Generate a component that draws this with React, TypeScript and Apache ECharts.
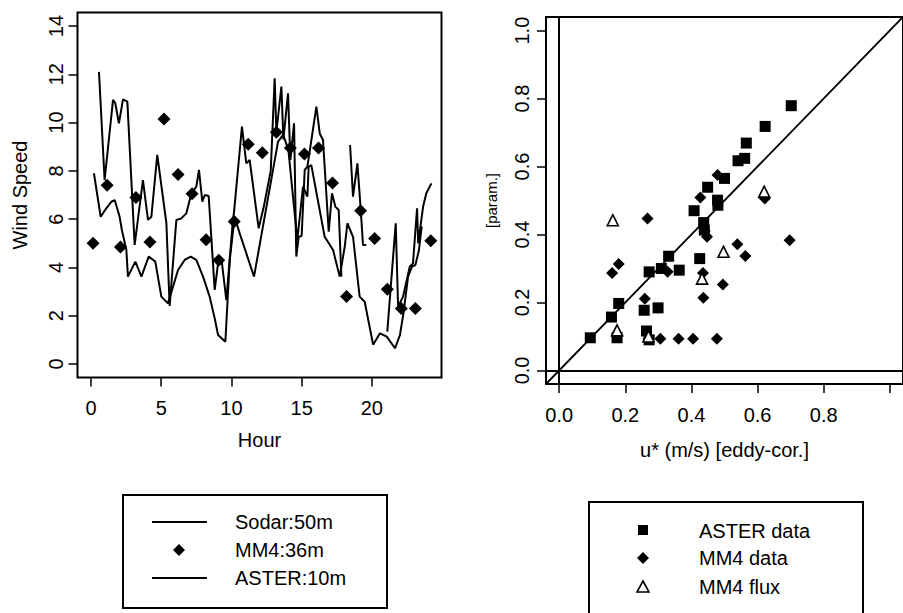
import React, { useEffect, useRef } from "react";
import * as echarts from "echarts";

const FONT = '"Liberation Sans", Arial, Helvetica, sans-serif';

// ---------- Left panel: wind speed vs hour ----------
const hourTicks = [0, 5, 10, 15, 20];
const speedTicks = [0, 2, 4, 6, 8, 10, 12, 14];

const sodarSeg1: number[][] = [
  [0.57, 12.1], [0.97, 7.62], [1.57, 10.94], [1.73, 10.8], [1.99, 9.97], [2.28, 10.96], [2.59, 10.87],
  [3.11, 4.93], [3.7, 7.62], [4.06, 5.97], [4.3, 6.1], [4.72, 8.66], [5.37, 5.83], [5.6, 2.4],
  [6.08, 5.97], [6.43, 6.03], [6.79, 6.24], [7.15, 7.07], [7.5, 7.35], [7.69, 8.04], [7.93, 6.72],
  [8.1, 7.0], [8.38, 6.96], [8.81, 3.07], [9.05, 4.17], [9.3, 4.3], [9.64, 2.65], [10.11, 5.97],
  [10.19, 6.31], [10.75, 9.83], [11.06, 8.31], [11.3, 8.45], [11.94, 5.62], [12.3, 6.5], [12.8, 8.0],
  [13.08, 11.83], [13.2, 9.6], [13.56, 11.49], [13.7, 9.3], [14.03, 11.21], [14.2, 8.45], [14.46, 9.97],
  [14.62, 4.45], [14.79, 5.27], [15.0, 5.3], [15.22, 8.04], [15.41, 8.17], [16.05, 10.66], [16.29, 9.55],
  [16.52, 9.28], [16.93, 5.48], [17.16, 7.07], [17.4, 6.52], [17.64, 6.38], [17.83, 3.62],
];
const sodarSeg2: number[][] = [
  [18.45, 9.07], [18.66, 6.93], [18.97, 8.31], [19.21, 6.38], [19.37, 4.93], [19.6, 4.93],
];
const sodarSeg3: number[][] = [
  [21.1, 1.34], [21.7, 5.83], [21.87, 2.37], [22.22, 2.79], [22.7, 4.03], [22.93, 4.17], [23.22, 6.45],
  [23.3, 5.0], [23.65, 6.52], [23.88, 7.07], [24.24, 7.48],
];
const asterLine: number[][] = [
  [0.21, 7.9], [0.69, 6.1], [1.09, 6.45], [1.45, 6.72], [1.69, 6.79], [2.04, 6.1], [2.2, 5.55],
  [2.52, 4.72], [2.63, 3.62], [3.16, 4.24], [3.59, 3.62], [4.11, 4.45], [4.58, 4.24], [5.01, 2.79],
  [5.48, 2.51], [6.2, 3.89], [6.67, 4.31], [7.1, 4.45], [7.5, 4.31], [7.98, 3.62], [8.45, 2.79],
  [8.81, 1.89], [9.05, 1.2], [9.57, 0.92], [9.88, 4.31], [10.23, 6.1], [10.59, 5.41], [11.61, 3.62],
  [13.32, 9.21], [13.68, 9.49], [14.05, 8.9], [14.69, 5.14], [15.1, 7.35], [15.41, 6.93], [15.5, 8.17],
  [15.69, 8.24], [16.64, 5.27], [17.24, 4.72], [17.71, 3.62], [18.07, 4.86], [18.26, 5.83], [18.66, 5.27],
  [19.13, 2.79], [19.49, 2.58], [20.09, 0.8], [20.58, 1.27], [21.06, 1.13], [21.65, 0.65], [22.0, 1.2],
  [22.25, 2.1], [22.58, 3.62], [22.86, 4.03], [23.1, 4.1], [23.35, 4.7], [23.55, 5.7],
];
const mm4Hours = [0.15, 1.15, 2.1, 3.2, 4.2, 5.2, 6.2, 7.2, 8.2, 9.1, 10.2, 11.2, 12.2, 13.2, 14.2, 15.2, 16.2, 17.2, 18.2, 19.2, 20.2, 21.1, 22.1, 23.1, 24.2];
const mm4Speed = [5.0, 7.4, 4.85, 6.9, 5.05, 10.15, 7.85, 7.05, 5.15, 4.3, 5.9, 9.1, 8.75, 9.6, 8.95, 8.7, 8.95, 7.5, 2.8, 6.35, 5.2, 3.1, 2.3, 2.3, 5.1];

// ---------- Right panel: u* param vs eddy-cor ----------
const uTicks = [0, 0.2, 0.4, 0.6, 0.8, 1.0];
const uLabelTicks = [0, 0.2, 0.4, 0.6, 0.8];
const vTicks = [0, 0.2, 0.4, 0.6, 0.8, 1.0];

const asterData: number[][] = [
  [0.702, 0.779], [0.623, 0.718], [0.566, 0.669], [0.561, 0.624], [0.541, 0.617], [0.5, 0.565],
  [0.449, 0.539], [0.479, 0.501], [0.48, 0.486], [0.408, 0.47], [0.437, 0.435], [0.439, 0.413],
  [0.331, 0.336], [0.309, 0.3], [0.272, 0.29], [0.363, 0.295], [0.425, 0.329], [0.18, 0.197],
  [0.158, 0.157], [0.094, 0.096], [0.175, 0.096], [0.257, 0.177], [0.299, 0.184], [0.264, 0.116],
  [0.272, 0.09],
];
const mm4Data: number[][] = [
  [0.267, 0.447], [0.479, 0.575], [0.427, 0.509], [0.622, 0.506], [0.697, 0.383], [0.447, 0.393],
  [0.44, 0.41], [0.539, 0.371], [0.563, 0.337], [0.495, 0.253], [0.436, 0.214], [0.435, 0.287],
  [0.18, 0.313], [0.16, 0.287], [0.328, 0.29], [0.259, 0.211], [0.306, 0.093], [0.361, 0.093],
  [0.405, 0.093], [0.477, 0.093], [0.175, 0.1], [0.27, 0.093],
];
const mm4Flux: number[][] = [
  [0.162, 0.442], [0.497, 0.349], [0.62, 0.526], [0.432, 0.27], [0.175, 0.118], [0.27, 0.1],
];
const oneToOne: number[][] = [[-0.04, -0.04], [1.04, 1.04]];

const txt = { fontFamily: FONT, fontSize: 20, color: "#000" };

function axisBase(extra: any) {
  return {
    type: "value",
    axisLine: { show: false, onZero: false },
    splitLine: { show: false },
    ...extra,
  };
}

export default function App() {
  const ref = useRef<HTMLDivElement>(null);
  useEffect(() => {
    if (!ref.current) return;
    const chart = echarts.init(ref.current, null, { renderer: "svg" });
    const lineStyle = { color: "#000", width: 2 };
    const tickStyle = { show: true, length: 9, lineStyle: { color: "#000", width: 1.5 } };
    const solid = { color: "#000", opacity: 1 };

    const option: any = {
      animation: false,
      backgroundColor: "#fff",
      grid: [
        { left: 77.5, top: 12.5, width: 364, height: 365, show: true, borderColor: "#000", borderWidth: 2, backgroundColor: "transparent" },
        { left: 546, top: 17, width: 364, height: 367, show: true, borderColor: "#000", borderWidth: 2, backgroundColor: "transparent" },
      ],
      xAxis: [
        axisBase({
          gridIndex: 0, min: -0.96, max: 24.96,
          name: "Hour", nameLocation: "middle", nameGap: 52, nameTextStyle: txt,
          axisTick: { ...tickStyle, customValues: hourTicks },
          axisLabel: { ...txt, margin: 20, customValues: hourTicks },
        }),
        axisBase({
          gridIndex: 1, min: -0.04, max: 1.04,
          name: "u* (m/s) [eddy-cor.]", nameLocation: "middle", nameGap: 56, nameTextStyle: txt,
          axisTick: { ...tickStyle, customValues: uTicks },
          axisLabel: { ...txt, margin: 21, customValues: uLabelTicks, formatter: (v: number) => v.toFixed(1) },
        }),
      ],
      yAxis: [
        axisBase({
          gridIndex: 0, min: -0.56, max: 14.56,
          name: "Wind Speed", nameLocation: "middle", nameGap: 48, nameRotate: 90, nameTextStyle: txt,
          axisTick: { ...tickStyle, customValues: speedTicks },
          axisLabel: { ...txt, margin: 12, rotate: 90, customValues: speedTicks },
        }),
        axisBase({
          gridIndex: 1, min: -0.04, max: 1.04,
          name: "[param.]", nameLocation: "middle", nameGap: 47, nameRotate: 90,
          nameTextStyle: { ...txt, fontSize: 15 },
          axisTick: { ...tickStyle, customValues: vTicks },
          axisLabel: { ...txt, margin: 14, rotate: 90, customValues: vTicks, formatter: (v: number) => v.toFixed(1) },
        }),
      ],
      series: [
        { name: "Sodar:50m", type: "line", xAxisIndex: 0, yAxisIndex: 0, data: sodarSeg1, showSymbol: false, lineStyle, silent: true },
        { name: "Sodar:50m", type: "line", xAxisIndex: 0, yAxisIndex: 0, data: sodarSeg2, showSymbol: false, lineStyle, silent: true },
        { name: "Sodar:50m", type: "line", xAxisIndex: 0, yAxisIndex: 0, data: sodarSeg3, showSymbol: false, lineStyle, silent: true },
        { name: "ASTER:10m", type: "line", xAxisIndex: 0, yAxisIndex: 0, data: asterLine, showSymbol: false, lineStyle, silent: true },
        {
          name: "MM4:36m", type: "scatter", xAxisIndex: 0, yAxisIndex: 0,
          data: mm4Hours.map((h, i) => [h, mm4Speed[i]]),
          symbol: "diamond", symbolSize: 13, itemStyle: solid, silent: true,
        },
        {
          name: "1:1", type: "line", xAxisIndex: 1, yAxisIndex: 1, data: oneToOne, showSymbol: false,
          lineStyle: { color: "#000", width: 1.8 }, silent: true, clip: true,
          markLine: {
            silent: true, symbol: ["none", "none"], label: { show: false },
            lineStyle: { color: "#000", width: 2, type: "solid" },
            data: [{ xAxis: 0 }, { yAxis: 0 }],
          },
        },
        { name: "ASTER data", type: "scatter", xAxisIndex: 1, yAxisIndex: 1, data: asterData, symbol: "rect", symbolSize: 11, itemStyle: solid, silent: true },
        { name: "MM4 data", type: "scatter", xAxisIndex: 1, yAxisIndex: 1, data: mm4Data, symbol: "diamond", symbolSize: 12, itemStyle: solid, silent: true },
        {
          name: "MM4 flux", type: "scatter", xAxisIndex: 1, yAxisIndex: 1, data: mm4Flux, symbol: "triangle", symbolSize: 11,
          itemStyle: { color: "#fff", borderColor: "#000", borderWidth: 1.6, opacity: 1 }, silent: true,
        },
      ],
      graphic: [
        // left legend
        { type: "rect", shape: { x: 123, y: 495, width: 264, height: 113 }, style: { fill: "none", stroke: "#000", lineWidth: 2 }, silent: true },
        { type: "line", shape: { x1: 152, y1: 522, x2: 207, y2: 522 }, style: { stroke: "#000", lineWidth: 2 }, silent: true },
        { type: "polygon", shape: { points: [[179, 544], [185, 550], [179, 556], [173, 550]] }, style: { fill: "#000" }, silent: true },
        { type: "line", shape: { x1: 152, y1: 578, x2: 207, y2: 578 }, style: { stroke: "#000", lineWidth: 2 }, silent: true },
        { type: "text", x: 235, y: 522, style: { text: "Sodar:50m", font: `20px ${FONT}`, fill: "#000", verticalAlign: "middle" }, silent: true },
        { type: "text", x: 235, y: 550, style: { text: "MM4:36m", font: `20px ${FONT}`, fill: "#000", verticalAlign: "middle" }, silent: true },
        { type: "text", x: 235, y: 578, style: { text: "ASTER:10m", font: `20px ${FONT}`, fill: "#000", verticalAlign: "middle" }, silent: true },
        // right legend
        { type: "rect", shape: { x: 589, y: 502, width: 274, height: 140 }, style: { fill: "none", stroke: "#000", lineWidth: 2 }, silent: true },
        { type: "rect", shape: { x: 638, y: 525, width: 10, height: 10 }, style: { fill: "#000" }, silent: true },
        { type: "polygon", shape: { points: [[643, 552], [649, 558], [643, 564], [637, 558]] }, style: { fill: "#000" }, silent: true },
        { type: "polygon", shape: { points: [[643, 581], [649, 592], [637, 592]] }, style: { fill: "#fff", stroke: "#000", lineWidth: 1.6 }, silent: true },
        { type: "text", x: 699, y: 531, style: { text: "ASTER data", font: `20px ${FONT}`, fill: "#000", verticalAlign: "middle" }, silent: true },
        { type: "text", x: 699, y: 558, style: { text: "MM4 data", font: `20px ${FONT}`, fill: "#000", verticalAlign: "middle" }, silent: true },
        { type: "text", x: 699, y: 587, style: { text: "MM4 flux", font: `20px ${FONT}`, fill: "#000", verticalAlign: "middle" }, silent: true },
      ],
    };
    chart.setOption(option);
    return () => chart.dispose();
  }, []);

  return (
    <div
      ref={ref}
      style={{ position: "absolute", left: 0, top: 0, width: 903, height: 613, overflow: "hidden", background: "#fff" }}
    />
  );
}
